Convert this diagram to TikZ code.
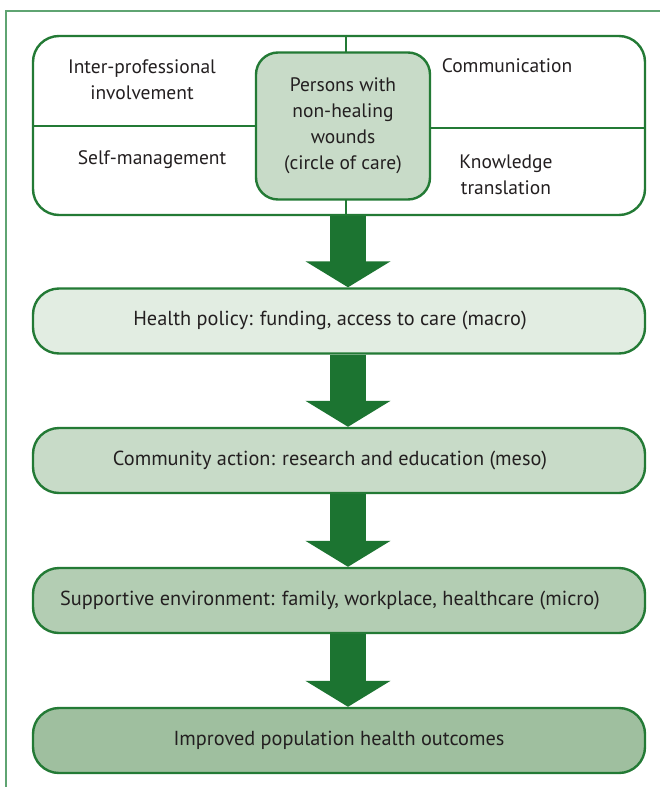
\documentclass[tikz,border=0pt]{standalone}
\usepackage{fontspec}
\setmainfont{PT Sans}
\usetikzlibrary{arrows.meta}
\definecolor{frameg}{HTML}{5FA472}
\definecolor{boxg}{HTML}{237A35}
\definecolor{arrg}{HTML}{1C7431}
\definecolor{txt}{HTML}{231F20}
\definecolor{fa}{HTML}{E2EDE2}
\definecolor{fb}{HTML}{C8DBC8}
\definecolor{fc}{HTML}{B3CDB3}
\definecolor{fd}{HTML}{9FBF9F}
\tikzset{
  x=1pt, y=-1pt,
  every node/.style={text=txt, font=\fontsize{19.5}{26}\selectfont, inner sep=0pt},
  flowtext/.style={font=\fontsize{20.3}{26}\selectfont},
  bigbox/.style={draw=boxg, line width=2.4pt, rounded corners=26pt, minimum width=612pt, minimum height=65pt},
  corebox/.style={draw=boxg, line width=2.4pt, rounded corners=22pt, fill=fb, minimum width=174pt, minimum height=147pt, align=center},
  divider/.style={draw=boxg, line width=2pt},
  flowarrow/.style={draw=arrg, line width=36pt, -{Triangle[width=84pt, length=26pt, fill=arrg]}, shorten >=0pt},
  lab/.style={align=center}
}
\begin{document}
\begin{tikzpicture}
\useasboundingbox (0,0) rectangle (660,787);
\fill[white] (0,0) rectangle (660,787);
% outer frame
\draw[frameg, line width=1.4pt] (6,787) -- (6,11) -- (660,11);
% top box
\node[bigbox, minimum height=179pt] (top) at (339,125.5) {};
\coordinate (vd) at (346,0);
\draw[divider] (top.north -| vd) -- (top.south -| vd);
\coordinate (lm) at (33,126);
\coordinate (rm) at (645,128);
\node[corebox] (core) at (343,126) {Persons with\\non-healing\\wounds\\(circle of care)};
\draw[divider] (lm) -- (core.west |- lm);
\draw[divider] (core.east |- rm) -- (rm);
\node[lab] (ip) at (142,80) {Inter-professional\\involvement};
\node[lab] (cm) at (507,66) {Communication};
\node[lab] (sm) at (152,160) {Self-management};
\node[lab] (kt) at (506,175) {Knowledge\\translation};
% flow boxes
\node[bigbox, fill=fa, flowtext] (b1) at (339,321) {\hspace*{-18pt}Health policy: funding, access to care (macro)};
\node[bigbox, fill=fb, flowtext] (b2) at (339,460.5) {\hspace*{-18pt}Community action: research and education (meso)};
\node[bigbox, fill=fc, flowtext] (b3) at (339,600.5) {\hspace*{-18pt}Supportive environment: family, workplace, healthcare (micro)};
\node[bigbox, fill=fd, flowtext] (b4) at (339,740.5) {Improved population health outcomes};
% arrows
\draw[flowarrow] ([xshift=9pt]top.south) -- ([xshift=9pt]b1.north);
\draw[flowarrow] ([xshift=9pt]b1.south) -- ([xshift=9pt]b2.north);
\draw[flowarrow] ([xshift=9pt]b2.south) -- ([xshift=9pt]b3.north);
\draw[flowarrow] ([xshift=9pt]b3.south) -- ([xshift=9pt]b4.north);
\end{tikzpicture}
\end{document}
